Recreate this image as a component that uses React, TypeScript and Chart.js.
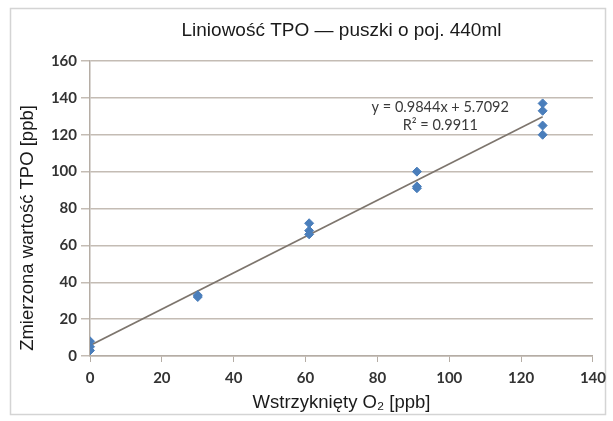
import React, { useEffect, useRef } from "react";
import { Chart, registerables } from "chart.js";

Chart.register(...registerables);

const chartTitle = "Liniowość TPO — puszki o poj. 440ml";
const xAxisTitle = "Wstrzyknięty O₂ [ppb]";
const yAxisTitle = "Zmierzona wartość TPO [ppb]";
const equationLines = ["y = 0.9844x + 5.7092", "R² = 0.9911"];

const injectedO2 = [0, 0, 0, 30, 30, 61, 61, 61, 91, 91, 91, 126, 126, 126, 126];
const measuredTPO = [8, 5, 3, 33, 32, 72, 68, 66, 100, 92, 91, 137, 133, 125, 120];

const trendX = [0, 126];
const trendY = [5.71, 129.74];

const xTicks = [0, 20, 40, 60, 80, 100, 120, 140];
const yTicks = [0, 20, 40, 60, 80, 100, 120, 140, 160];

const equationAnchorX = 97.5;
const equationAnchorY = [135, 125];

export default function App() {
  const ref = useRef<HTMLCanvasElement | null>(null);

  useEffect(() => {
    if (!ref.current) return;
    const decor = {
      id: "decor",
      beforeDraw(chart: any) {
        const ctx = chart.ctx;
        ctx.save();
        ctx.fillStyle = "#ffffff";
        ctx.fillRect(0, 0, chart.width, chart.height);
        ctx.strokeStyle = "#d4d4d4";
        ctx.lineWidth = 1.5;
        ctx.strokeRect(10.5, 8.5, 595, 406);
        ctx.restore();
      },
      afterDraw(chart: any) {
        const ctx = chart.ctx;
        const area = chart.chartArea;
        const cx = (area.left + area.right) / 2;
        ctx.save();
        ctx.fillStyle = "#1a1a1a";
        ctx.textAlign = "center";
        ctx.textBaseline = "middle";
        ctx.font = "19px 'Liberation Sans', Arial, sans-serif";
        ctx.fillText(chartTitle, cx, 31);
        ctx.font = "18.5px 'Liberation Sans', Arial, sans-serif";
        ctx.fillText(xAxisTitle, cx, 403);
        ctx.save();
        ctx.translate(28, 228);
        ctx.rotate(-Math.PI / 2);
        ctx.fillText(yAxisTitle, 0, 0);
        ctx.restore();
        const xs = chart.scales.x;
        const ys = chart.scales.y;
        ctx.fillStyle = "#3a3a3a";
        ctx.font = "14.5px Lato, 'Open Sans', sans-serif";
        equationLines.forEach((t, i) => {
          ctx.fillText(t, xs.getPixelForValue(equationAnchorX), ys.getPixelForValue(equationAnchorY[i]));
        });
        ctx.restore();
      },
    };

    const tickFont = { family: "Lato, 'Open Sans', sans-serif", size: 15, weight: "bold" as const };

    const chart = new Chart(ref.current, {
      type: "scatter",
      data: {
        datasets: [
          {
            type: "line",
            label: "trend",
            data: trendX.map((x, i) => ({ x, y: trendY[i] })),
            borderColor: "#7d756d",
            borderWidth: 1.6,
            pointRadius: 0,
            fill: false,
            order: 2,
          } as any,
          {
            label: "TPO",
            data: injectedO2.map((x, i) => ({ x, y: measuredTPO[i] })),
            pointStyle: "rectRot",
            pointRadius: 4.5,
            backgroundColor: "#4a7ebb",
            borderColor: "#4a7ebb",
            order: 1,
          },
        ],
      },
      options: {
        responsive: false,
        animation: false,
        layout: { padding: { left: 0, right: 15, top: 61, bottom: 0 } },
        plugins: { legend: { display: false }, tooltip: { enabled: false }, title: { display: false } },
        scales: {
          x: {
            type: "linear",
            min: 0,
            max: 140,
            afterBuildTicks: (s: any) => {
              s.ticks = xTicks.map((v) => ({ value: v }));
            },
            afterFit: (s: any) => {
              s.height = 65;
            },
            ticks: { font: tickFont, color: "#333333", padding: 7 },
            grid: { drawOnChartArea: false, drawTicks: true, tickLength: 6, color: "#b5ada5" },
            border: { display: true, color: "#b5ada5", width: 1.5 },
          },
          y: {
            type: "linear",
            min: 0,
            max: 160,
            afterBuildTicks: (s: any) => {
              s.ticks = yTicks.map((v) => ({ value: v }));
            },
            afterFit: (s: any) => {
              s.width = 90;
            },
            ticks: { font: tickFont, color: "#333333", padding: 4 },
            grid: { color: "#c4bcb4", lineWidth: 1.5, tickLength: 9 },
            border: { display: true, color: "#b5ada5", width: 1.5 },
          },
        },
      },
      plugins: [decor],
    });
    return () => chart.destroy();
  }, []);

  return (
    <div style={{ position: "absolute", left: 0, top: 0, width: 613, height: 421 }}>
      <canvas ref={ref} width={613} height={421} />
    </div>
  );
}
